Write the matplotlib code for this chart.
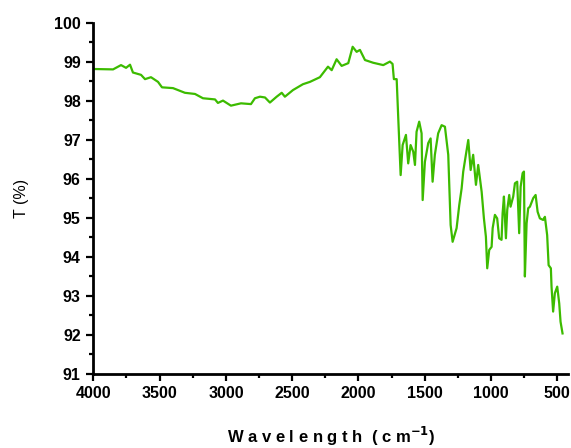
import matplotlib
matplotlib.use("Agg")
import matplotlib.pyplot as plt
from matplotlib.ticker import MultipleLocator

# FTIR spectrum, values
wavenumber = [4000, 3851, 3791, 3753, 3723, 3701, 3640, 3610, 3565, 3512,
              3482, 3399, 3309, 3233, 3173, 3082, 3060, 3022, 2962, 2886,
              2811, 2781, 2743, 2705, 2668, 2617, 2579, 2555, 2494, 2419,
              2366, 2291, 2230, 2202, 2165, 2127, 2077, 2044, 2014, 1989,
              1951, 1889, 1813, 1763, 1743, 1733, 1712, 1700, 1682, 1667,
              1642, 1625, 1607, 1587, 1574, 1562, 1542, 1524, 1516, 1499,
              1474, 1456, 1441, 1424, 1399, 1373, 1348, 1323, 1305, 1290,
              1260, 1240, 1222, 1210, 1190, 1172, 1154, 1135, 1114, 1097,
              1071, 1054, 1039, 1029, 1014, 996, 988, 971, 954, 939,
              921, 913, 903, 888, 878, 863, 853, 833, 820, 803,
              788, 777, 762, 752, 745, 732, 720, 707, 682, 664,
              649, 632, 607, 594, 577, 566, 549, 544, 532, 519,
              501, 486, 476, 461]
transmittance = [98.82, 98.81, 98.92, 98.85, 98.93, 98.73, 98.67, 98.56, 98.61, 98.49,
                 98.35, 98.33, 98.21, 98.18, 98.07, 98.04, 97.95, 98.01, 97.88, 97.94,
                 97.92, 98.07, 98.11, 98.09, 97.96, 98.11, 98.21, 98.11, 98.28, 98.43,
                 98.49, 98.61, 98.88, 98.79, 99.07, 98.90, 98.97, 99.39, 99.26, 99.31,
                 99.05, 98.98, 98.92, 99.01, 98.95, 98.56, 98.56, 97.56, 96.10, 96.87,
                 97.13, 96.40, 96.87, 96.70, 96.36, 97.21, 97.47, 97.17, 95.46, 96.44,
                 96.92, 97.04, 95.93, 96.62, 97.17, 97.38, 97.34, 96.62, 94.82, 94.39,
                 94.74, 95.33, 95.76, 96.19, 96.62, 97.00, 96.23, 96.62, 95.85, 96.36,
                 95.67, 94.99, 94.52, 93.71, 94.18, 94.26, 94.74, 95.08, 94.99, 94.48,
                 94.44, 95.12, 95.55, 94.48, 95.21, 95.59, 95.29, 95.55, 95.89, 95.93,
                 94.61, 95.80, 96.15, 96.19, 93.50, 94.86, 95.25, 95.29, 95.51, 95.59,
                 95.16, 94.99, 94.95, 95.03, 94.56, 93.79, 93.71, 93.24, 92.60, 93.07,
                 93.24, 92.81, 92.34, 92.04]

x_ticks = [4000, 3500, 3000, 2500, 2000, 1500, 1000, 500]
y_ticks = list(range(91, 101))

plt.rcParams['font.family'] = ['Liberation Sans', 'DejaVu Sans']

fig = plt.figure(figsize=(5.71, 4.48), dpi=100)
ax = fig.add_axes([0.1634, 0.1652, 0.8313, 0.7835])

ax.plot(wavenumber, transmittance, color='#3cbb00', linewidth=1.6)

ax.set_xlim(4000, 420)
ax.set_ylim(91, 100)
ax.set_xticks(x_ticks)
ax.set_yticks(y_ticks)
ax.xaxis.set_minor_locator(MultipleLocator(250))
ax.yaxis.set_minor_locator(MultipleLocator(0.5))

for side in ['top', 'right']:
    ax.spines[side].set_visible(False)
for side in ['left', 'bottom']:
    ax.spines[side].set_linewidth(2)

ax.tick_params(which='major', direction='out', length=5, width=1.6, labelsize=11.5, pad=4)
ax.tick_params(which='minor', direction='out', length=3, width=1.6)
for lab in ax.get_xticklabels() + ax.get_yticklabels():
    lab.set_fontweight('bold')

ax.set_xlabel('W a v e l e n g t h  ( c m$^{\\mathbf{-1}}$)', fontsize=12,
              fontweight='bold', labelpad=17)
ax.set_ylabel('T (%)', fontsize=11.5, labelpad=18)

fig.savefig('out.png', dpi=100)
